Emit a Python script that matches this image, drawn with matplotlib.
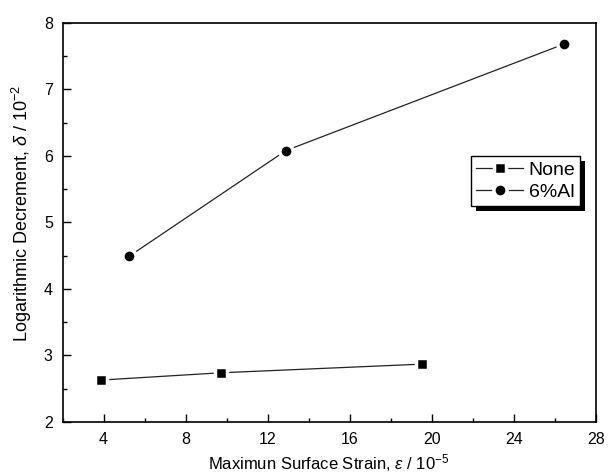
import matplotlib.pyplot as plt
from matplotlib.ticker import MultipleLocator
from matplotlib.patches import Rectangle

plt.rcParams['font.family'] = ['Liberation Sans', 'DejaVu Sans']
plt.rcParams['mathtext.fontset'] = 'custom'
plt.rcParams['mathtext.rm'] = 'Liberation Sans'
plt.rcParams['mathtext.it'] = 'Liberation Sans:italic'

# data
none_x = [3.86, 9.72, 19.53]
none_y = [2.63, 2.74, 2.87]
al_x = [5.24, 12.89, 26.44]
al_y = [4.49, 6.08, 7.68]

fig = plt.figure(figsize=(6.08, 4.74), dpi=100)
ax = fig.add_axes([0.1028, 0.1097, 0.877, 0.842])

ax.plot(none_x, none_y, color='#222222', lw=0.9, marker='s', ms=8.5,
        mfc='black', mec='white', mew=2.5, label='None')
ax.plot(al_x, al_y, color='#222222', lw=0.9, marker='o', ms=9.5,
        mfc='black', mec='white', mew=2.5, label='6%Al')

ax.set_xlim(2, 28)
ax.set_ylim(2, 8)
ax.xaxis.set_major_locator(MultipleLocator(4))
ax.xaxis.set_minor_locator(MultipleLocator(2))
ax.yaxis.set_major_locator(MultipleLocator(1))
ax.yaxis.set_minor_locator(MultipleLocator(0.5))
ax.tick_params(which='both', direction='in', width=1, labelsize=11.5, pad=7)
ax.tick_params(which='major', length=6)
ax.tick_params(which='minor', length=3)
for s in ax.spines.values():
    s.set_linewidth(1.2)

ax.set_xlabel(r'Maximun Surface Strain, $\varepsilon$ / 10$^{-5}$', fontsize=12, labelpad=4)
ax.set_ylabel(r'Logarithmic Decrement, $\delta$ / 10$^{-2}$', fontsize=13)
ax.yaxis.set_label_coords(-0.053, 0.523)

leg = ax.legend(loc='upper left', bbox_to_anchor=(0.767, 0.666), borderaxespad=0,
                fontsize=14, handlelength=2.4, handletextpad=0.3, borderpad=0.25,
                labelspacing=0.25, fancybox=False, framealpha=1, edgecolor='black')
leg.get_frame().set_linewidth(1.0)

# black drop shadow offset by a few pixels
fig.canvas.draw()
bb = leg.get_window_extent()
shadow = Rectangle((bb.x0 + 5, bb.y0 - 5), bb.width, bb.height, transform=None,
                   facecolor='black', edgecolor='none', zorder=4.9, clip_on=False)
ax.add_artist(shadow)

fig.savefig('out.png', dpi=100)
